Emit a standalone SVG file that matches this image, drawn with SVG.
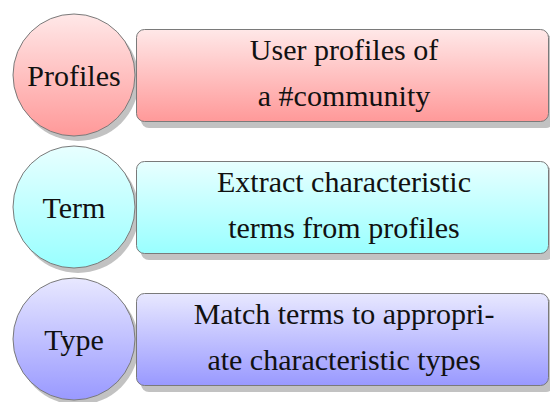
<svg xmlns="http://www.w3.org/2000/svg" width="550" height="402" viewBox="0 0 550 402" font-family="'Liberation Serif', 'Times New Roman', serif">
<defs>
<linearGradient id="gr" x1="0" y1="0" x2="0" y2="1"><stop offset="0" stop-color="#ffe8e8"/><stop offset="1" stop-color="#ff9999"/></linearGradient>
<linearGradient id="gc" x1="0" y1="0" x2="0" y2="1"><stop offset="0" stop-color="#e8ffff"/><stop offset="1" stop-color="#99ffff"/></linearGradient>
<linearGradient id="gb" x1="0" y1="0" x2="0" y2="1"><stop offset="0" stop-color="#e8e8ff"/><stop offset="1" stop-color="#9999ff"/></linearGradient>
</defs>
<rect width="550" height="402" fill="#fff"/>
<g id="connectors"/>
<g id="profiles-circle">
<circle fill="#c2c2c2" cx="78" cy="80" r="61"/>
<circle stroke="#7a7a7a" cx="74" cy="75" r="61" fill="url(#gr)"/>
<text x="74" y="86" style="font-family:'Liberation Serif','Times New Roman',serif;font-size:30px" text-anchor="middle" fill="#111">Profiles</text>
</g>
<g id="profiles-box">
<rect fill="#c2c2c2" x="141" y="35" width="413" height="93" rx="8"/>
<rect stroke="#7a7a7a" x="136.5" y="29.5" width="412" height="92" rx="8" fill="url(#gr)"/>
<text x="344" y="60" style="font-family:'Liberation Serif','Times New Roman',serif;font-size:30px" text-anchor="middle" fill="#111">User profiles of</text>
<text x="344" y="106" style="font-family:'Liberation Serif','Times New Roman',serif;font-size:30px" text-anchor="middle" fill="#111">a #community</text>
</g>
<g id="term-circle">
<circle fill="#c2c2c2" cx="78" cy="212" r="61"/>
<circle stroke="#7a7a7a" cx="74" cy="207" r="61" fill="url(#gc)"/>
<text x="74" y="218" style="font-family:'Liberation Serif','Times New Roman',serif;font-size:30px" text-anchor="middle" fill="#111">Term</text>
</g>
<g id="term-box">
<rect fill="#c2c2c2" x="141" y="167" width="413" height="93" rx="8"/>
<rect stroke="#7a7a7a" x="136.5" y="161.5" width="412" height="92" rx="8" fill="url(#gc)"/>
<text x="344" y="192" style="font-family:'Liberation Serif','Times New Roman',serif;font-size:30px" text-anchor="middle" fill="#111">Extract characteristic</text>
<text x="344" y="238" style="font-family:'Liberation Serif','Times New Roman',serif;font-size:30px" text-anchor="middle" fill="#111">terms from profiles</text>
</g>
<g id="type-circle">
<circle fill="#c2c2c2" cx="78" cy="344" r="61"/>
<circle stroke="#7a7a7a" cx="74" cy="339" r="61" fill="url(#gb)"/>
<text x="74" y="350" style="font-family:'Liberation Serif','Times New Roman',serif;font-size:30px" text-anchor="middle" fill="#111">Type</text>
</g>
<g id="type-box">
<rect fill="#c2c2c2" x="141" y="299" width="413" height="93" rx="8"/>
<rect stroke="#7a7a7a" x="136.5" y="293.5" width="412" height="92" rx="8" fill="url(#gb)"/>
<text x="344" y="324" style="font-family:'Liberation Serif','Times New Roman',serif;font-size:30px" text-anchor="middle" fill="#111">Match terms to appropri-</text>
<text x="344" y="370" style="font-family:'Liberation Serif','Times New Roman',serif;font-size:30px" text-anchor="middle" fill="#111">ate characteristic types</text>
</g>
</svg>
